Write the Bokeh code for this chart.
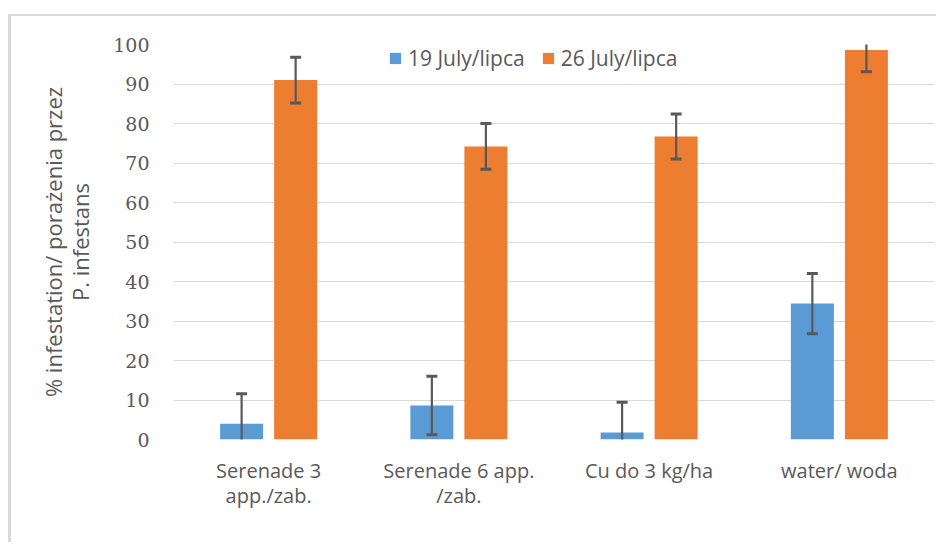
from bokeh.plotting import figure
from bokeh.models import FactorRange, Range1d, FixedTicker, Legend, LegendItem, ColumnDataSource
from bokeh.transform import dodge
from bokeh.embed import file_html
from bokeh.resources import INLINE

categories = ["Serenade 3\napp./zab.", "Serenade 6 app.\n/zab.", "Cu do 3 kg/ha", "water/ woda"]
series_names = ["19 July/lipca", "26 July/lipca"]
july19 = [4.0, 8.6, 1.8, 34.4]
july19_err = [7.6, 7.4, 7.6, 7.6]
july26 = [91.0, 74.2, 76.7, 98.6]
july26_err = [5.8, 5.8, 5.7, 5.5]
y_ticks = [0, 10, 20, 30, 40, 50, 60, 70, 80, 90, 100]

BLUE = "#5B9BD5"
ORANGE = "#ED7D31"
TXT = "#595959"
GRID = "#D9D9D9"

src = ColumnDataSource(dict(
    cat=categories,
    v1=july19, lo1=[v - e for v, e in zip(july19, july19_err)], hi1=[v + e for v, e in zip(july19, july19_err)],
    v2=july26, lo2=[v - e for v, e in zip(july26, july26_err)], hi2=[v + e for v, e in zip(july26, july26_err)],
))

p = figure(width=928, height=528, x_range=FactorRange(*categories, range_padding=0),
           y_range=Range1d(0, 100), output_backend="svg", toolbar_location=None,
           min_border_left=162, min_border_right=5, min_border_top=28, min_border_bottom=105)
p.styles = {"border-left": "3px solid #d9d9d9", "border-top": "2px solid #d9d9d9",
            "margin-top": "14px", "margin-left": "8px"}
p.x_range.range_padding = 0
p.outline_line_color = None
p.background_fill_color = "white"
p.border_fill_color = "white"

off = 0.142
w = 0.226
r1 = p.vbar(x=dodge("cat", -off, range=p.x_range), top="v1", width=w, source=src, fill_color=BLUE, line_color=None)
r2 = p.vbar(x=dodge("cat", off, range=p.x_range), top="v2", width=w, source=src, fill_color=ORANGE, line_color=None)

for d, lo, hi in [(-off, "lo1", "hi1"), (off, "lo2", "hi2")]:
    xs = dodge("cat", d, range=p.x_range)
    p.segment(x0=xs, y0=lo, x1=xs, y1=hi, source=src, line_color=TXT, line_width=2.2)
    p.scatter(x=xs, y=lo, source=src, marker="dash", size=11, line_color=TXT, line_width=3)
    p.scatter(x=xs, y=hi, source=src, marker="dash", size=11, line_color=TXT, line_width=3)

p.xgrid.grid_line_color = None
p.ygrid.grid_line_color = GRID
p.ygrid.grid_line_width = 1
p.yaxis.ticker = FixedTicker(ticks=y_ticks)

for ax in (p.xaxis[0], p.yaxis[0]):
    ax.axis_line_color = None
    ax.major_tick_line_color = None
    ax.minor_tick_line_color = None
    ax.major_label_text_color = TXT

p.yaxis.major_label_text_font = "DejaVu Serif"
p.yaxis.major_label_text_font_size = "19px"
p.yaxis.major_label_standoff = 18
p.yaxis.axis_label = "% infestation/ porażenia przez\nP. infestans"
p.yaxis.axis_label_text_font = "Open Sans"
p.yaxis.axis_label_text_font_size = "22px"
p.yaxis.axis_label_text_font_style = "normal"
p.yaxis.axis_label_text_color = TXT
p.yaxis.axis_label_text_line_height = 0.9
p.yaxis.axis_label_standoff = 15

p.xaxis.major_label_text_font = "Open Sans"
p.xaxis.major_label_text_font_size = "20px"
p.xaxis.major_label_text_line_height = 0.96
p.xaxis.major_label_standoff = 11

legend = Legend(items=[LegendItem(label=series_names[0], renderers=[r1]),
                       LegendItem(label=series_names[1], renderers=[r2])],
                location=(215, 367), orientation="horizontal")
legend.glyph_width = 14
legend.glyph_height = 14
legend.label_standoff = 6
legend.spacing = 16
legend.padding = 0
legend.margin = 0
legend.border_line_color = None
legend.background_fill_alpha = 0
legend.label_text_font = "Open Sans"
legend.label_text_font_size = "21px"
legend.label_text_color = TXT
p.add_layout(legend)

open("out.html", "w").write(file_html(p, INLINE))
